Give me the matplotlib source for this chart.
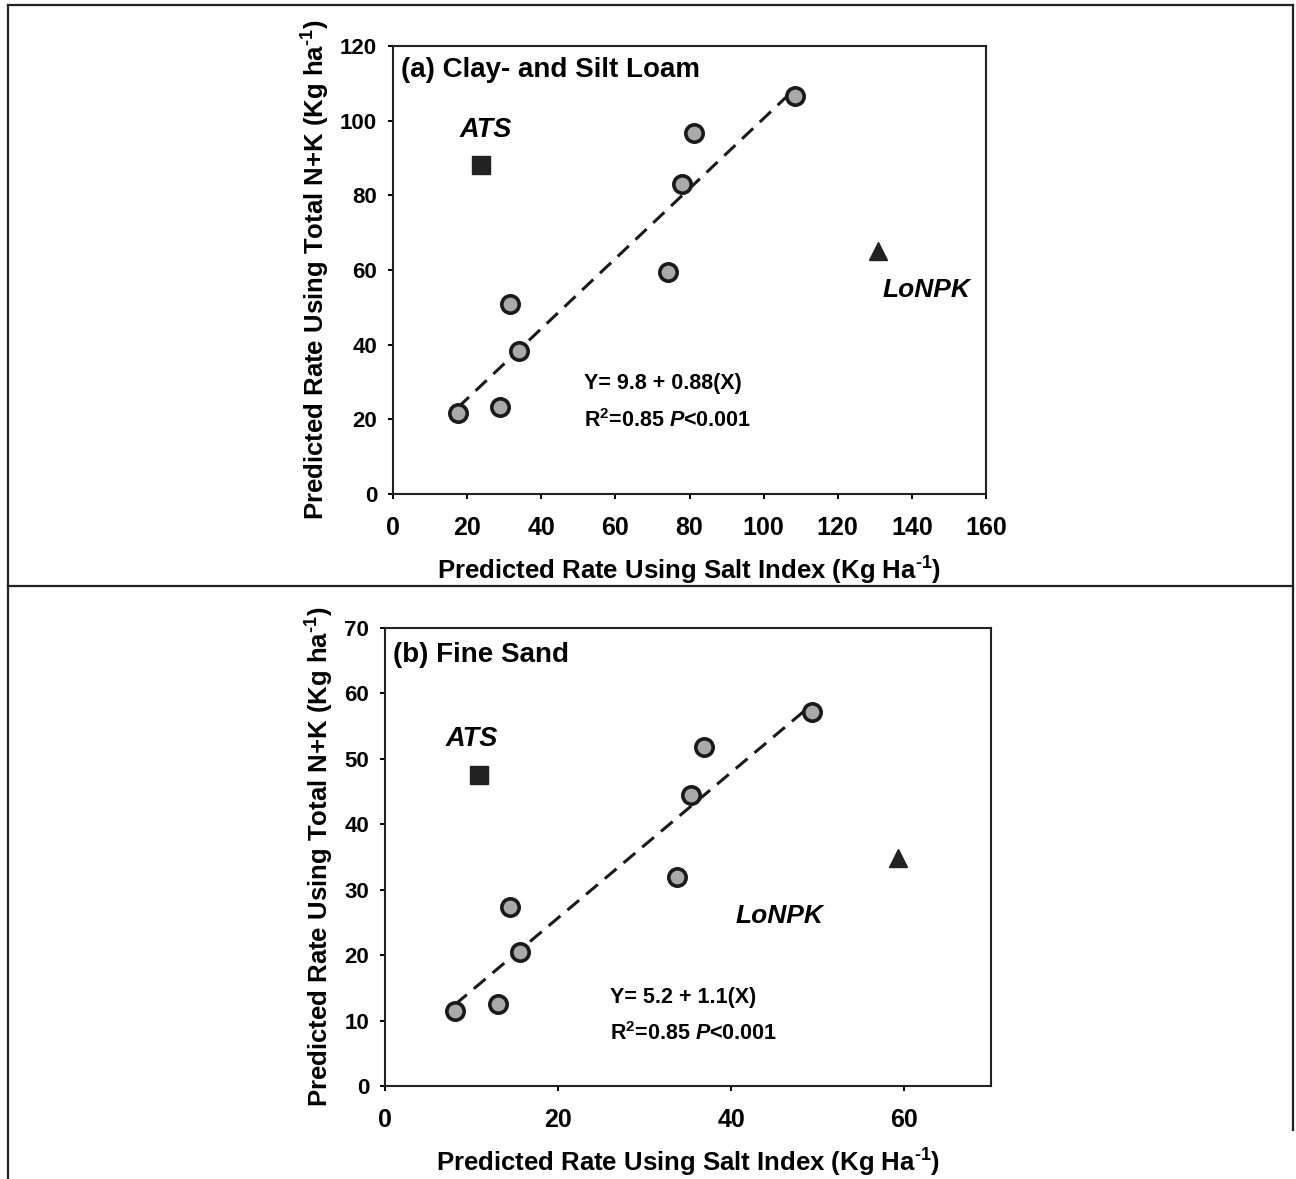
import numpy as np
import matplotlib
matplotlib.use('Agg')
import matplotlib.pyplot as plt
from matplotlib.lines import Line2D

# ----------------------------------------------------------------------------
# DATA
# ----------------------------------------------------------------------------

# Panel (a): Clay- and Silt Loam
salt_a = [17.5, 29.0, 31.6, 34.0, 74.2, 78.0, 81.2, 108.5]
total_a = [21.7, 23.3, 50.9, 38.3, 59.5, 83.0, 96.7, 106.6]
ats_a = (23.8, 88.1)
lonpk_a = (130.9, 65.1)
eq_a = "Y= 9.8 + 0.88(X)"

# Panel (b): Fine Sand
salt_b = [8.1, 13.1, 14.4, 15.6, 33.7, 35.3, 36.9, 49.3]
total_b = [11.5, 12.5, 27.4, 20.5, 31.9, 44.4, 51.8, 57.2]
ats_b = (10.9, 47.5)
lonpk_b = (59.3, 34.9)
eq_b = "Y= 5.2 + 1.1(X)"

r2_text = r"R$^{2}$=0.85 $\mathit{P}$<0.001"
xlabel = r"Predicted Rate Using Salt Index (Kg Ha$^{\text{-1}}$)"
ylabel = r"Predicted Rate Using Total N+K (Kg ha$^{\text{-1}}$)"

# ----------------------------------------------------------------------------
# STYLE
# ----------------------------------------------------------------------------

plt.rcParams['font.family'] = ['Liberation Sans', 'DejaVu Sans']
plt.rcParams['font.weight'] = 'bold'
plt.rcParams['mathtext.fontset'] = 'custom'
plt.rcParams['mathtext.rm'] = 'Liberation Sans:bold'
plt.rcParams['mathtext.bf'] = 'Liberation Sans:bold'
plt.rcParams['mathtext.it'] = 'Liberation Sans:bold:italic'
plt.rcParams['mathtext.default'] = 'rm'

fig = plt.figure(figsize=(12.96, 11.79), dpi=100)

# outer frame lines like the scanned figure
W, H = 1296, 1179
def fig_line(x0, y0, x1, y1):
    fig.add_artist(Line2D([x0 / W, x1 / W], [1 - y0 / H, 1 - y1 / H],
                          color='#222222', lw=1.6))

fig_line(8, 5, 1293, 5)
fig_line(8, 5, 8, 1179)
fig_line(1293, 5, 1293, 1130)
fig_line(8, 586, 1293, 586)


def draw_panel(ax, xs, ys, ats, lonpk, eq, title, xmax, ymax, xstep, ystep,
               ats_txt, lonpk_txt, eq_xy, title_y):
    # regression line fit on the points
    slope, icpt = np.polyfit(xs, ys, 1)
    xl = np.array([min(xs), max(xs)])
    ax.plot(xl, icpt + slope * xl, '--', color='#1a1a1a', lw=2.2,
            dashes=(5, 3), zorder=2)
    ax.plot(xs, ys, 'o', ms=12.5, mfc='#aaaaaa', mec='#1a1a1a', mew=2.6,
            zorder=3)
    ax.plot(*ats, 's', ms=13, color='#222222', zorder=3)
    ax.plot(*lonpk, '^', ms=13, color='#222222', zorder=3)

    ax.text(*ats_txt, 'ATS', style='italic', fontsize=19.5, ha='center',
            va='center')
    ax.text(*lonpk_txt, 'LoNPK', style='italic', fontsize=19, ha='center',
            va='center')
    ax.text(eq_xy[0], eq_xy[1], eq, fontsize=15.5, ha='left', va='center')
    ax.text(eq_xy[0], eq_xy[2], r2_text, fontsize=15.5, ha='left',
            va='center')
    ax.text(0.013, title_y, title, transform=ax.transAxes, fontsize=20,
            ha='left', va='center')

    ax.set_xlim(0, xmax)
    ax.set_ylim(0, ymax)
    ax.set_xticks(np.arange(0, xmax + 0.1, xstep))
    ax.set_yticks(np.arange(0, ymax + 0.1, ystep))
    ax.tick_params(direction='out', length=3.5, width=1.4)
    ax.tick_params(axis='x', labelsize=18, pad=12)
    ax.tick_params(axis='y', labelsize=16, pad=8)
    for s in ax.spines.values():
        s.set_linewidth(1.5)
        s.set_color('#222222')
    ax.set_xlabel(xlabel, fontsize=18.5, fontweight='bold', labelpad=11)
    ax.set_ylabel(ylabel, fontsize=18.5, fontweight='bold', labelpad=6)


ax_a = fig.add_axes([393 / W, 1 - 494 / H, 593 / W, 448 / H])
draw_panel(ax_a, salt_a, total_a, ats_a, lonpk_a, eq_a,
           '(a) Clay- and Silt Loam', 160, 120, 20, 20,
           (25.1, 97.5), (143.9, 54.6), (51.5, 29.5, 19.6), 0.946)

ax_b = fig.add_axes([385 / W, 1 - 1086 / H, 606 / W, 458 / H])
draw_panel(ax_b, salt_b, total_b, ats_b, lonpk_b, eq_b,
           '(b) Fine Sand', 70, 70, 20, 10,
           (10.0, 53.0), (45.6, 26.0), (26.0, 13.5, 8.0), 0.941)

fig.savefig('out.png', dpi=100)
